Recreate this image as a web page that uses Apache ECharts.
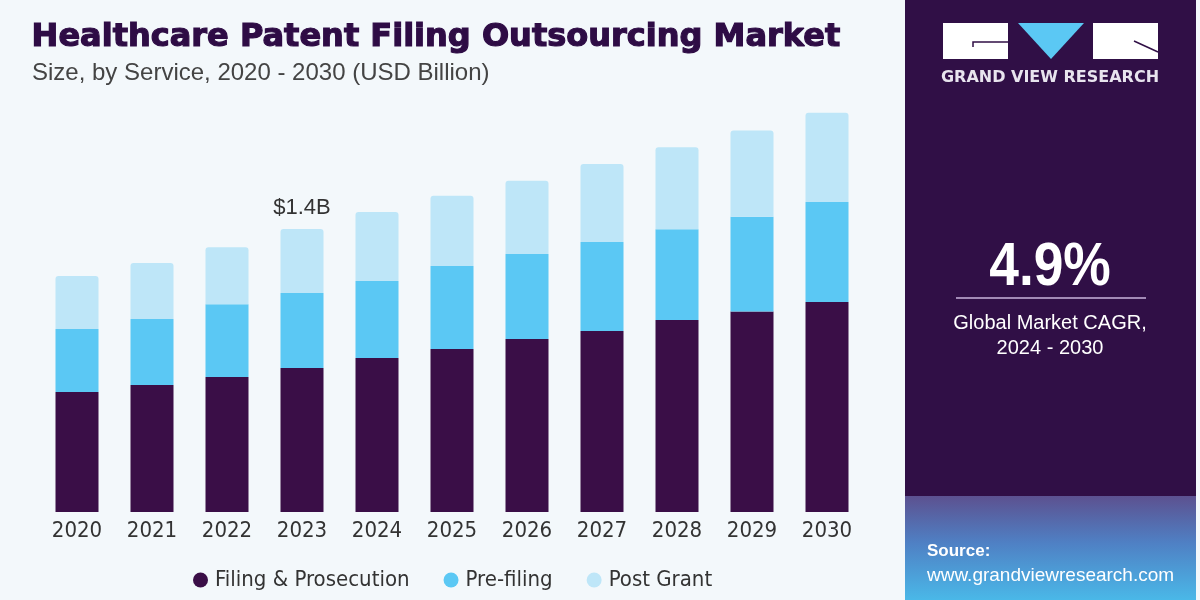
<!DOCTYPE html>
<html>
<head>
<meta charset="utf-8">
<title>Healthcare Patent Filing Outsourcing Market</title>
<script src="https://cdn.jsdelivr.net/npm/echarts@6/dist/echarts.min.js"></script>
<style>
  html, body { margin: 0; padding: 0; background: #f3f8fb; }
  #chart { width: 1200px; height: 600px; }
</style>
</head>
<body>
<div id="chart"></div>
<script>
// Data (USD Billion)
const years = ['2020', '2021', '2022', '2023', '2024', '2025', '2026', '2027', '2028', '2029', '2030'];
const filingProsecution = [0.594, 0.629, 0.668, 0.713, 0.762, 0.807, 0.856, 0.896, 0.950, 0.992, 1.040];
const preFiling = [0.312, 0.327, 0.361, 0.371, 0.381, 0.411, 0.421, 0.441, 0.450, 0.470, 0.495];
const postGrant = [0.262, 0.277, 0.282, 0.317, 0.342, 0.348, 0.363, 0.386, 0.406, 0.426, 0.442];
const seriesNames = ['Filing & Prosecution', 'Pre-filing', 'Post Grant'];
const calloutYear = '2023';
const calloutText = '$1.4B';

// Colours
const COLORS = {
  filing: '#3a0e47',
  pre: '#5bc8f4',
  post: '#bee6f8',
  panel: '#300f46',
  title: '#2e0c45',
  text: '#333333'
};

const NARROW = "'Liberation Sans Narrow', 'DejaVu Sans Condensed', 'Liberation Sans', sans-serif";

const chart = echarts.init(document.getElementById('chart'));

// Post grant series gets the callout on one bar
const postData = postGrant.map((v, i) => {
  if (years[i] !== calloutYear) return v;
  return {
    value: v,
    label: {
      show: true,
      position: 'top',
      distance: 10,
      formatter: calloutText,
      fontSize: 22,
      color: COLORS.text,
      fontFamily: 'Liberation Sans'
    }
  };
});

chart.setOption({
  backgroundColor: '#f3f8fb',
  animation: false,
  grid: { left: 39.5, right: 335.5, top: 108, bottom: 88 },
  legend: {
    left: 188,
    top: 564,
    icon: 'circle',
    itemWidth: 15,
    itemHeight: 15,
    itemGap: 34,
    textStyle: { fontSize: 22, color: COLORS.text, fontFamily: NARROW, padding: [0, 0, 0, 2] },
    data: seriesNames
  },
  xAxis: {
    type: 'category',
    data: years,
    axisLine: { show: false },
    axisTick: { show: false },
    axisLabel: { fontSize: 22, color: COLORS.text, fontFamily: NARROW, margin: 8 }
  },
  yAxis: {
    type: 'value',
    min: 0,
    max: 2,
    show: false,
    splitLine: { show: false }
  },
  series: [
    {
      name: seriesNames[0], type: 'bar', stack: 'total', barWidth: 43,
      itemStyle: { color: COLORS.filing },
      data: filingProsecution
    },
    {
      name: seriesNames[1], type: 'bar', stack: 'total', barWidth: 43,
      itemStyle: { color: COLORS.pre },
      data: preFiling
    },
    {
      name: seriesNames[2], type: 'bar', stack: 'total', barWidth: 43,
      itemStyle: { color: COLORS.post, borderRadius: [3, 3, 0, 0] },
      data: postData
    }
  ],
  graphic: [
    // Title block
    {
      type: 'text', left: 31, top: 21,
      style: { text: 'Healthcare Patent Filing Outsourcing Market', fill: COLORS.title,
        stroke: COLORS.title, lineWidth: 1.2,
        font: 'bold 32px "DejaVu Sans"' }
    },
    {
      type: 'text', left: 32, top: 61,
      style: { text: 'Size, by Service, 2020 - 2030 (USD Billion)', fill: '#444444',
        font: '24px "Liberation Sans"' }
    },
    // Right panel
    {
      type: 'rect', shape: { x: 905, y: 0, width: 291, height: 600 },
      style: { fill: COLORS.panel }, z: -1
    },
    {
      type: 'rect', shape: { x: 905, y: 496, width: 291, height: 104 },
      style: {
        fill: new echarts.graphic.LinearGradient(0, 0, 0, 1, [
          { offset: 0, color: '#5c5190' },
          { offset: 0.45, color: '#4f80c4' },
          { offset: 1, color: '#4ab8e8' }
        ])
      }, z: -1
    },
    // Logo
    { type: 'rect', shape: { x: 943, y: 23, width: 65, height: 36 }, style: { fill: '#ffffff' } },
    { type: 'polyline', shape: { points: [[973, 47], [973, 42], [1008, 42]] },
      style: { stroke: COLORS.panel, lineWidth: 1.5, fill: null } },
    { type: 'polygon', shape: { points: [[1018, 23], [1084, 23], [1051, 59]] }, style: { fill: '#5bc8f4' } },
    { type: 'rect', shape: { x: 1093, y: 23, width: 65, height: 36 }, style: { fill: '#ffffff' } },
    { type: 'line', shape: { x1: 1134, y1: 41, x2: 1158, y2: 52 },
      style: { stroke: COLORS.panel, lineWidth: 1.5 } },
    {
      type: 'text', x: 1050, y: 78,
      style: { text: 'GRAND VIEW RESEARCH', fill: '#e8e4ee', align: 'center', verticalAlign: 'middle',
        font: 'bold 16px "DejaVu Sans"' }
    },
    // CAGR
    {
      type: 'text', x: 1050, y: 268, scaleX: 0.86,
      style: { text: '4.9%', fill: '#ffffff', align: 'center', verticalAlign: 'middle',
        font: 'bold 62px "Liberation Sans"' }
    },
    { type: 'line', shape: { x1: 956, y1: 298, x2: 1146, y2: 298 },
      style: { stroke: '#c8b4dc', lineWidth: 1.5 } },
    {
      type: 'text', x: 1050, y: 323,
      style: { text: 'Global Market CAGR,', fill: '#ffffff', align: 'center', verticalAlign: 'middle',
        font: '20px "Liberation Sans"' }
    },
    {
      type: 'text', x: 1050, y: 348,
      style: { text: '2024 - 2030', fill: '#ffffff', align: 'center', verticalAlign: 'middle',
        font: '20px "Liberation Sans"' }
    },
    // Source
    {
      type: 'text', left: 927, top: 543,
      style: { text: 'Source:', fill: '#ffffff', font: 'bold 17px "Liberation Sans"' }
    },
    {
      type: 'text', left: 927, top: 566,
      style: { text: 'www.grandviewresearch.com', fill: '#ffffff', font: '19px "Liberation Sans"' }
    }
  ]
});
</script>
</body>
</html>
